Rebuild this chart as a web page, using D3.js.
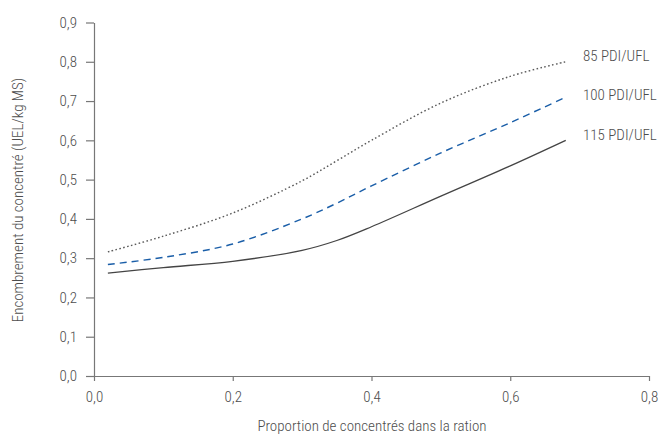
<!DOCTYPE html>
<html><head><meta charset="utf-8">
<script src="https://cdn.jsdelivr.net/npm/d3@7"></script>
<style>
body{margin:0;background:#fff;}
text{font-family:"Roboto Condensed","Liberation Sans Narrow","DejaVu Sans Condensed",sans-serif;font-weight:300;fill:#4d4d4d;}
</style></head>
<body><svg id="c" width="665" height="435"></svg>
<script>
const xVals = [0.02,0.1,0.2,0.3,0.35,0.4,0.5,0.6,0.68];
const pdi85  = [0.316,0.356,0.415,0.497,0.548,0.60,0.695,0.763,0.80];
const pdi100 = [0.284,0.302,0.336,0.40,0.44,0.484,0.568,0.645,0.71];
const pdi115 = [0.262,0.276,0.292,0.32,0.345,0.38,0.458,0.535,0.6];
const seriesNames = ["85 PDI/UFL","100 PDI/UFL","115 PDI/UFL"];
const xTicks = [0,0.2,0.4,0.6,0.8];
const yTicks = [0,0.1,0.2,0.3,0.4,0.5,0.6,0.7,0.8,0.9];

const svg = d3.select("#c");
const x = d3.scaleLinear().domain([0,0.8]).range([94,649]);
const y = d3.scaleLinear().domain([0,0.9]).range([376,22.5]);
const fmt = d => d3.format(".1f")(d).replace(".", ",");

const ax = svg.append("g").attr("transform","translate(0,376)")
  .call(d3.axisBottom(x).tickValues(xTicks).tickFormat(fmt).tickSize(5).tickSizeOuter(0));
const ay = svg.append("g").attr("transform","translate(94,0)")
  .call(d3.axisLeft(y).tickValues(yTicks).tickFormat(fmt).tickSize(8).tickSizeOuter(0));
[ax,ay].forEach(a=>{
  a.selectAll("path,line").attr("stroke","#777").attr("stroke-width",1.2);
  a.selectAll("text").attr("font-size",15).style("fill","#4d4d4d").attr("font-family",null);
});
ax.selectAll("text").attr("dy","1.2em");
ay.selectAll("text").attr("x",-17);

const styles = [
  {data:pdi85, color:"#5a5a5a", dash:"1.6,2.4", w:1.4},
  {data:pdi100, color:"#1a5ea8", dash:"7,5", w:1.4},
  {data:pdi115, color:"#444", dash:null, w:1.3}
];
const labelY = [0.815,0.715,0.613];
const line = d3.line().x(d=>x(d[0])).y(d=>y(d[1])).curve(d3.curveCatmullRom);
styles.forEach((s,i)=>{
  svg.append("path").datum(xVals.map((v,j)=>[v,s.data[j]]))
    .attr("d",line).attr("fill","none").attr("stroke",s.color)
    .attr("stroke-width",s.w).attr("stroke-dasharray",s.dash);
  svg.append("text").attr("x",583).attr("y",y(labelY[i]))
    .attr("dy","0.35em").attr("font-size",15).text(seriesNames[i]);
});

svg.append("text").attr("x",372).attr("y",431).attr("text-anchor","middle")
  .attr("font-size",15).text("Proportion de concentrés dans la ration");
svg.append("text").attr("transform","translate(23,200) rotate(-90)").attr("text-anchor","middle")
  .attr("font-size",15).text("Encombrement du concentré (UEL/kg MS)");
</script></body></html>
